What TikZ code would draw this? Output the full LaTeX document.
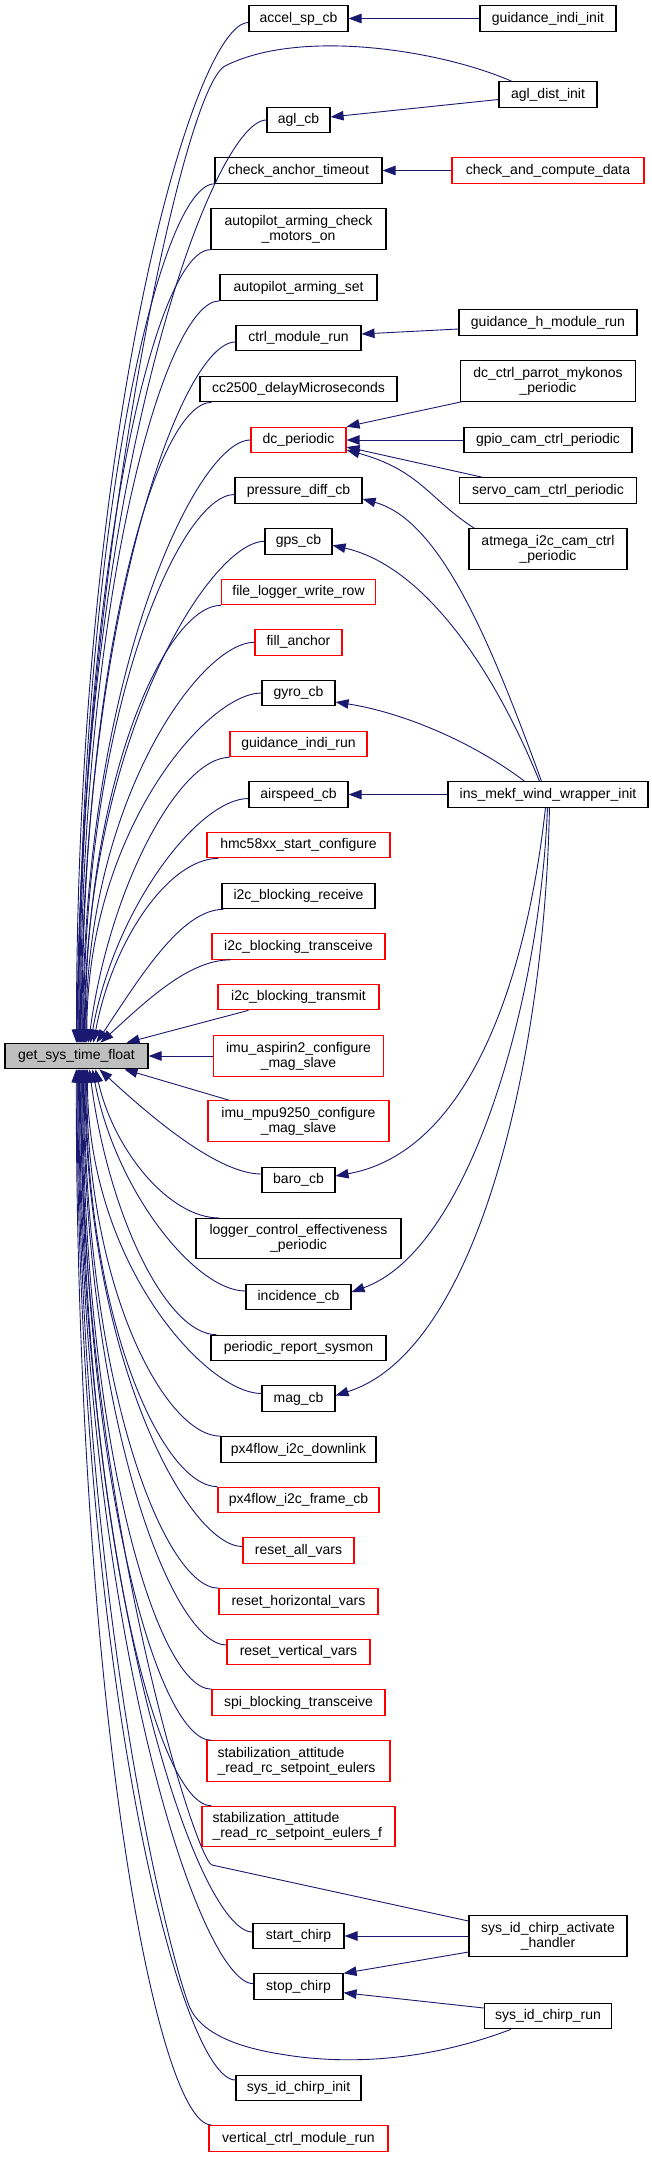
\documentclass[tikz,border=0pt]{standalone}
\usepackage{fontspec}
\setmainfont{Liberation Sans}
\usetikzlibrary{calc,arrows.meta}
\definecolor{edgeblue}{HTML}{191970}
\definecolor{gfill}{HTML}{BFBFBF}
\definecolor{nred}{HTML}{FF0000}
\newcommand{\nodefont}{\fontsize{14}{15}\selectfont}
\newcommand{\fanedge}[5]{\draw[ed] let \p1=(#1), \p2=(#2) in (\p1) .. controls ($(\p1)+(#3,0)$) and ({\x2+#4*(\x1-\x2)},{\y2+#5*(\y1-\y2)}) .. (\p2);}
\newcommand{\farE}[2]{\fanedge{#1}{#2}{-55}{0}{0.6}}
\newcommand{\medE}[2]{\fanedge{#1}{#2}{-50}{0.15}{0.55}}
\newcommand{\nearE}[2]{\fanedge{#1}{#2}{-42}{0.35}{0.5}}
\tikzset{
  nb/.style={draw=black, line width=1.1pt, rectangle, inner sep=0pt, align=center, font=\nodefont, minimum height=25.6pt, fill=white},
  nr/.style={nb, draw=nred},
  two/.style={minimum height=40.3pt},
  ed/.style={draw=edgeblue, line width=0.9pt, -{Triangle[length=13pt,width=9.5pt]}, fill=none},
}
\begin{document}
\begin{tikzpicture}[x=1pt,y=-1pt]
\fill[white] (0,0) rectangle (652,2157);
\useasboundingbox (0,0) rectangle (652,2157);
% left
\node[nb, fill=gfill, minimum width=143pt] (g) at (76.5,1056) {get\_sys\_time\_float};
% middle column
\node[nb, minimum width=99pt] (accel) at (298.5,18.5) {accel\_sp\_cb};
\node[nb, minimum width=63pt] (agl) at (298.5,120) {agl\_cb};
\node[nb, minimum width=167pt] (cat) at (298.5,170.5) {check\_anchor\_timeout};
\node[nb, two, minimum width=175pt] (apc) at (298.5,229) {autopilot\_arming\_check\\\_motors\_on};
\node[nb, minimum width=157pt] (aps) at (298.5,287.5) {autopilot\_arming\_set};
\node[nb, minimum width=125pt] (ctrl) at (298.5,338) {ctrl\_module\_run};
\node[nb, minimum width=197pt] (cc) at (298.5,389) {cc2500\_delayMicroseconds};
\node[nr, minimum width=95pt] (dc) at (298.5,440) {dc\_periodic};
\node[nb, minimum width=127pt] (pd) at (298.5,490.5) {pressure\_diff\_cb};
\node[nb, minimum width=67pt] (gps) at (298.5,541.3) {gps\_cb};
\node[nr, minimum width=154pt] (flw) at (298.5,592) {file\_logger\_write\_row};
\node[nr, minimum width=87pt] (fa) at (298.5,642.3) {fill\_anchor};
\node[nb, minimum width=73pt] (gyro) at (298.5,693) {gyro\_cb};
\node[nr, minimum width=137pt] (gir) at (298.5,744) {guidance\_indi\_run};
\node[nb, minimum width=99pt] (as) at (298.5,794.5) {airspeed\_cb};
\node[nr, minimum width=183pt] (hmc) at (298.5,845) {hmc58xx\_start\_configure};
\node[nb, minimum width=153pt] (i2cr) at (298.5,896) {i2c\_blocking\_receive};
\node[nr, minimum width=173pt] (i2ct) at (298.5,946.5) {i2c\_blocking\_transceive};
\node[nr, minimum width=161pt] (i2cx) at (298.5,997) {i2c\_blocking\_transmit};
\node[nr, two, minimum width=170pt] (ia) at (298.5,1056) {imu\_aspirin2\_configure\\\_mag\_slave};
\node[nr, two, minimum width=181pt] (im) at (298.5,1121) {imu\_mpu9250\_configure\\\_mag\_slave};
\node[nb, minimum width=73pt] (baro) at (298.5,1180) {baro\_cb};
\node[nb, two, minimum width=205pt] (lce) at (298.5,1238.7) {logger\_control\_effectiveness\\\_periodic};
\node[nb, minimum width=105pt] (inc) at (298.5,1297) {incidence\_cb};
\node[nb, minimum width=175pt] (prs) at (298.5,1348) {periodic\_report\_sysmon};
\node[nb, minimum width=73pt] (mag) at (298.5,1398.5) {mag\_cb};
\node[nb, minimum width=155pt] (pxd) at (298.5,1449.5) {px4flow\_i2c\_downlink};
\node[nr, minimum width=161pt] (pxf) at (298.5,1500) {px4flow\_i2c\_frame\_cb};
\node[nr, minimum width=111pt] (ra) at (298.5,1550.5) {reset\_all\_vars};
\node[nr, minimum width=159pt] (rh) at (298.5,1601.5) {reset\_horizontal\_vars};
\node[nr, minimum width=143pt] (rv) at (298.5,1652) {reset\_vertical\_vars};
\node[nr, minimum width=173pt] (spi) at (298.5,1702.5) {spi\_blocking\_transceive};
\node[nr, two, minimum width=183pt, text width=162pt, align=left] (st1) at (298.5,1761) {stabilization\_attitude\\\_read\_rc\_setpoint\_eulers};
\node[nr, two, minimum width=193pt, text width=172pt, align=left] (st2) at (298.5,1826.5) {stabilization\_attitude\\\_read\_rc\_setpoint\_eulers\_f};
\node[nb, minimum width=91pt] (sc) at (298.5,1936) {start\_chirp};
\node[nb, minimum width=89pt] (stc) at (298.5,1986.7) {stop\_chirp};
\node[nb, minimum width=125pt] (sci) at (298.5,2088) {sys\_id\_chirp\_init};
\node[nr, minimum width=179pt] (vc) at (298.5,2138.3) {vertical\_ctrl\_module\_run};
% right column
\node[nb, minimum width=136pt] (gii) at (548,18.5) {guidance\_indi\_init};
\node[nb, minimum width=98pt] (ad) at (548,94.5) {agl\_dist\_init};
\node[nr, minimum width=192pt] (cacd) at (548,170.5) {check\_and\_compute\_data};
\node[nb, minimum width=178pt] (gh) at (548,322.5) {guidance\_h\_module\_run};
\node[nb, two, minimum width=175pt] (dcp) at (548,381) {dc\_ctrl\_parrot\_mykonos\\\_periodic};
\node[nb, minimum width=168pt] (gpio) at (548,440) {gpio\_cam\_ctrl\_periodic};
\node[nb, minimum width=177pt] (servo) at (548,490.5) {servo\_cam\_ctrl\_periodic};
\node[nb, two, minimum width=158pt] (atm) at (548,549) {atmega\_i2c\_cam\_ctrl\\\_periodic};
\node[nb, minimum width=200pt] (imw) at (548,794.5) {ins\_mekf\_wind\_wrapper\_init};
\node[nb, two, minimum width=158pt] (sah) at (548,1936) {sys\_id\_chirp\_activate\\\_handler};
\node[nb, minimum width=127pt] (scr) at (548,2016) {sys\_id\_chirp\_run};
% edges into get_sys_time_float (top)
\farE{[yshift=-4pt]accel.west}{[xshift=72pt]g.north west}
\draw[ed] ([xshift=13pt]ad.north west) .. controls (440,50) and (300,28) .. (225,66) .. controls (180,90) and (77.8,600) .. ([xshift=72.8pt]g.north west);
\farE{agl.west}{[xshift=73.6pt]g.north west}
\farE{cat.south west}{[xshift=74.4pt]g.north west}
\farE{apc.south west}{[xshift=75.2pt]g.north west}
\farE{aps.south west}{[xshift=76pt]g.north west}
\farE{[yshift=-4pt]ctrl.west}{[xshift=76.8pt]g.north west}
\farE{[xshift=12pt]cc.south west}{[xshift=77.6pt]g.north west}
\farE{dc.west}{[xshift=78.4pt]g.north west}
\farE{[yshift=-4pt]pd.west}{[xshift=79.2pt]g.north west}
\farE{gps.west}{[xshift=80pt]g.north west}
\farE{flw.south west}{[xshift=80.8pt]g.north west}
\farE{fa.west}{[xshift=81.6pt]g.north west}
\farE{gyro.west}{[xshift=82.4pt]g.north west}
\medE{gir.south west}{[xshift=84pt]g.north west}
\medE{[yshift=-4pt]as.west}{[xshift=86pt]g.north west}
\medE{[xshift=12pt]hmc.south west}{[xshift=89pt]g.north west}
\nearE{[xshift=2pt]i2cr.south west}{[xshift=92pt]g.north west}
\nearE{[xshift=19pt]i2ct.south west}{[xshift=96pt]g.north west}
\draw[ed] ([xshift=31pt]i2cx.south west) -- ([xshift=-22pt]g.north east);
\draw[ed] (ia.west) -- (g.east);
\draw[ed] ([xshift=22pt]im.north west) -- ([xshift=-24pt]g.south east);
% edges into get_sys_time_float (bottom)
\nearE{[yshift=6pt]baro.west}{[xshift=95pt]g.south west}
\medE{[xshift=24pt]lce.north west}{[xshift=91pt]g.south west}
\medE{[yshift=6pt]inc.west}{[xshift=88pt]g.south west}
\medE{[xshift=6pt]prs.north west}{[xshift=85pt]g.south west}
\farE{[yshift=5pt]mag.west}{[xshift=83pt]g.south west}
\farE{pxd.north west}{[xshift=82.2pt]g.south west}
\farE{pxf.north west}{[xshift=81.4pt]g.south west}
\farE{[yshift=4pt]ra.west}{[xshift=80.6pt]g.south west}
\farE{rh.north west}{[xshift=79.8pt]g.south west}
\farE{[yshift=7pt]rv.west}{[xshift=79pt]g.south west}
\farE{spi.north west}{[xshift=78.2pt]g.south west}
\farE{[xshift=5pt]st1.north west}{[xshift=77.4pt]g.south west}
\farE{[xshift=10pt]st2.north west}{[xshift=76.6pt]g.south west}
\draw[ed] ([yshift=15pt]sah.west) -- (212,1865) .. controls (196,1861.5) and (80.8,1500) .. ([xshift=75.8pt]g.south west);
\farE{[yshift=4pt]sc.west}{[xshift=75pt]g.south west}
\farE{[yshift=3pt]stc.west}{[xshift=74.2pt]g.south west}
\draw[ed] ([xshift=27pt]scr.south west) .. controls (430,2060) and (350,2066) .. (280,2054) .. controls (230,2046) and (200,2030) .. (190,2008) .. controls (170,1960) and (78.4,1600) .. ([xshift=73.4pt]g.south west);
\farE{[yshift=8pt]sci.west}{[xshift=72.6pt]g.south west}
\farE{[xshift=3pt]vc.north west}{[xshift=71.8pt]g.south west}
% right-side edges
\draw[ed] (gii.west) -- (accel.east);
\draw[ed] ([yshift=-5pt]ad.west) -- ([yshift=3pt]agl.east);
\draw[ed] (cacd.west) -- (cat.east);
\draw[ed] ([yshift=-6.5pt]gh.west) -- ([yshift=4pt]ctrl.east);
\draw[ed] ([xshift=2pt]dcp.south west) -- (dc.north east);
\draw[ed] (gpio.west) -- (dc.east);
\draw[ed] ([xshift=23pt]servo.north west) -- ([yshift=-7pt]dc.east);
\draw[ed] ([xshift=6pt]atm.north west) .. controls (430,500) and (420,470) .. ([yshift=-10pt]dc.east);
\draw[ed] ([xshift=94pt]imw.north west) .. controls (490,640) and (440,520) .. ([yshift=-8.5pt]pd.east);
\draw[ed] ([xshift=92pt]imw.north west) .. controls (490,660) and (420,565) .. ([yshift=-4pt]gps.east);
\draw[ed] ([xshift=77pt]imw.north west) .. controls (470,740) and (400,712) .. ([yshift=-9pt]gyro.east);
\draw[ed] (imw.west) -- (as.east);
\draw[ed] ([xshift=98pt]imw.south west) .. controls (530,950) and (480,1150) .. ([yshift=4pt]baro.east);
\draw[ed] ([xshift=100pt]imw.south west) .. controls (540,1000) and (470,1250) .. ([yshift=5pt]inc.east);
\draw[ed] ([xshift=102pt]imw.south west) .. controls (545,1050) and (480,1350) .. ([yshift=3pt]mag.east);
\draw[ed] (sah.west) -- (sc.east);
\draw[ed] ([yshift=-16pt]sah.west) -- (stc.north east);
\draw[ed] ([yshift=8pt]scr.west) -- ([yshift=-6pt]stc.east);
\end{tikzpicture}
\end{document}
